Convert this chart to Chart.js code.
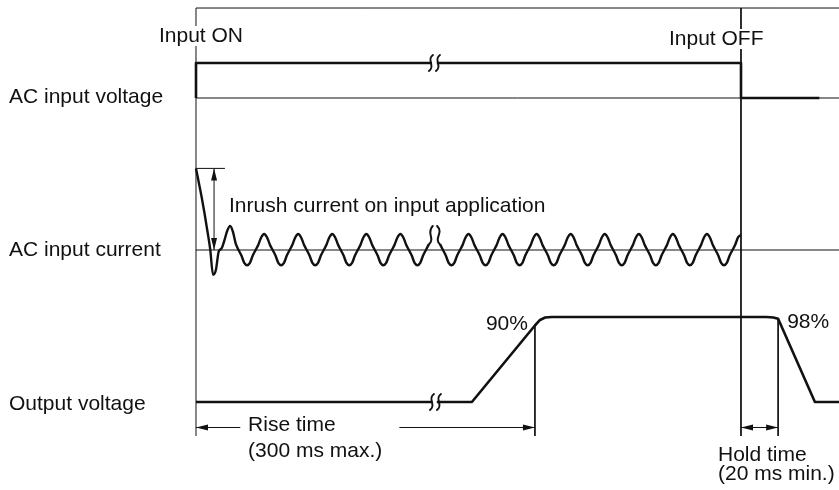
<!DOCTYPE html>
<html>
<head>
<meta charset="utf-8">
<script src="https://cdn.jsdelivr.net/npm/chart.js@4.4.1/dist/chart.umd.min.js"></script>
<style>
  html, body { margin: 0; padding: 0; background: #fff; }
  canvas { display: block; }
</style>
</head>
<body>
<canvas id="timingChart" width="839" height="490"></canvas>
<script>
// time is counted in mains cycles (one ripple period = 1), input switched on at t = 0
const rowLabels = ['AC input voltage', 'AC input current', 'Output voltage'];

// AC input voltage: 0 = off, 1 = on (null = axis break)
const inputTimes  = [0, 0, 6.93, 7, 7.07, 16, 16, 18.3];
const inputLevels = [0, 1, 1, null, 1, 1, 0, 0];

// AC input current, one value every 1/12 cycle from t = 0 to t = 16 (relative units)
const currentStep = 1 / 12;
const currentValues = [
  5.1, 4.2, 3.3, 2.3, 1.2, 0.05, -1.55, -1.25, -0.1, 0.1, 0.6, 1.2,
  1.5, 1.15, 0.4, 0, -0.35, -0.8, -0.95, -0.8, -0.35, 0, 0.35, 0.8,
  1.0, 0.8, 0.35, 0, -0.35, -0.8, -0.95, -0.8, -0.35, 0, 0.35, 0.8,
  1.0, 0.8, 0.35, 0, -0.35, -0.8, -0.95, -0.8, -0.35, 0, 0.35, 0.8,
  1.0, 0.8, 0.35, 0, -0.35, -0.8, -0.95, -0.8, -0.35, 0, 0.35, 0.8,
  1.0, 0.8, 0.35, 0, -0.35, -0.8, -0.95, -0.8, -0.35, 0, 0.35, 0.8,
  1.0, 0.8, 0.35, 0, -0.35, -0.8, -0.95, -0.8, -0.35, 0, 0.35, null,
  null, null, 0.35, 0, -0.35, -0.8, -0.95, -0.8, -0.35, 0, 0.35, 0.8,
  1.0, 0.8, 0.35, 0, -0.35, -0.8, -0.95, -0.8, -0.35, 0, 0.35, 0.8,
  1.0, 0.8, 0.35, 0, -0.35, -0.8, -0.95, -0.8, -0.35, 0, 0.35, 0.8,
  1.0, 0.8, 0.35, 0, -0.35, -0.8, -0.95, -0.8, -0.35, 0, 0.35, 0.8,
  1.0, 0.8, 0.35, 0, -0.35, -0.8, -0.95, -0.8, -0.35, 0, 0.35, 0.8,
  1.0, 0.8, 0.35, 0, -0.35, -0.8, -0.95, -0.8, -0.35, 0, 0.35, 0.8,
  1.0, 0.8, 0.35, 0, -0.35, -0.8, -0.95, -0.8, -0.35, 0, 0.35, 0.8,
  1.0, 0.8, 0.35, 0, -0.35, -0.8, -0.95, -0.8, -0.35, 0, 0.35, 0.8,
  1.0, 0.8, 0.35, 0, -0.35, -0.8, -0.95, -0.8, -0.35, 0, 0.35, 0.8,
  0.95
];
const inrushPeak = 5.1;

// Output voltage in % of rated value
const outputTimes  = [0, 6.93, 7, 7.07, 8.1, 9.95, 10.1, 10.25, 10.45, 16.75, 16.95, 17.09, 18.17, 18.9];
const outputLevels = [0, 0, null, 0, 0, 90, 96.5, 99.4, 100, 100, 99.4, 98, 0, 0];

// marked instants
const inputOnTime = 0;
const inputOffTime = 16;
const riseEndTime = 9.95;   // 90 %
const holdEndTime = 17.09;  // 98 %
const breakTime = 7;

const ink = '#111';
const font = '21px "Liberation Sans", Arial, Helvetica, sans-serif';

const toPoints = (xs, ys) => xs.map((x, i) => ({ x: x, y: ys[i] }));
const currentPoints = currentValues.map((v, i) => ({ x: i * currentStep, y: v }));

const X_MAX = 18.8771;
const FRAME_TOP = 463.5;   // on the output axis, just under the top edge
const GUIDE_END = -40;     // on the output axis, below the output row

const thin = (data, yAxisID) => ({
  data: data, yAxisID: yAxisID, showLine: true, borderColor: ink,
  borderWidth: 1, pointRadius: 0, tension: 0
});
const thick = (data, yAxisID) => ({
  data: data, yAxisID: yAxisID, showLine: true, borderColor: ink,
  borderWidth: 2.6, pointRadius: 0, tension: 0, borderJoinStyle: 'round', borderCapStyle: 'butt'
});

const arrowHead = (ctx, x, y, dx, dy) => {
  const len = 12, half = 3;
  ctx.beginPath();
  ctx.moveTo(x, y);
  ctx.lineTo(x - dx * len - dy * half, y - dy * len + dx * half);
  ctx.lineTo(x - dx * len + dy * half, y - dy * len - dx * half);
  ctx.closePath();
  ctx.fill();
};

const arrowLine = (ctx, x1, y1, x2, y2, bothEnds) => {
  const d = Math.hypot(x2 - x1, y2 - y1);
  const dx = (x2 - x1) / d, dy = (y2 - y1) / d;
  ctx.beginPath();
  ctx.moveTo(x1, y1);
  ctx.lineTo(x2, y2);
  ctx.stroke();
  arrowHead(ctx, x2, y2, dx, dy);
  if (bothEnds) arrowHead(ctx, x1, y1, -dx, -dy);
};

// pair of "ʃʃ" strokes marking a break in a flat line
const breakMark = (ctx, cx, cy) => {
  [-3.5, 3.5].forEach(off => {
    const c = cx + off;
    ctx.beginPath();
    ctx.moveTo(c + 2, cy - 8);
    ctx.bezierCurveTo(c - 5, cy - 3, c + 5, cy + 3, c - 2, cy + 8);
    ctx.stroke();
  });
};

const label = (ctx, text, x, y, align, knockout) => {
  ctx.textAlign = align || 'left';
  if (knockout) {
    const w = ctx.measureText(text).width;
    ctx.fillStyle = '#fff';
    ctx.fillRect(x - 1, y - 10, w + 2, 20);
    ctx.fillStyle = ink;
  }
  ctx.fillText(text, x, y);
};

const diagramNotes = {
  id: 'diagramNotes',
  afterDatasetsDraw(chart) {
    const { ctx } = chart;
    const { x, yV, yI, yO } = chart.scales;
    ctx.save();
    ctx.strokeStyle = ink;
    ctx.fillStyle = ink;
    ctx.lineWidth = 1;

    // rise time and hold time arrows
    const yArrow = yO.getPixelForValue(-30);
    arrowLine(ctx, x.getPixelForValue(1.3), yArrow, x.getPixelForValue(inputOnTime), yArrow);
    arrowLine(ctx, x.getPixelForValue(5.97), yArrow, x.getPixelForValue(riseEndTime), yArrow);
    arrowLine(ctx, x.getPixelForValue(inputOffTime), yArrow, x.getPixelForValue(holdEndTime), yArrow, true);

    // inrush peak arrow
    const xIn = x.getPixelForValue(0.53);
    arrowLine(ctx, xIn, yI.getPixelForValue(0), xIn, yI.getPixelForValue(inrushPeak), true);

    // axis break marks
    ctx.lineWidth = 2;
    ctx.lineCap = 'round';
    const xb = x.getPixelForValue(breakTime);
    breakMark(ctx, xb, yV.getPixelForValue(1));
    breakMark(ctx, xb + 1, yO.getPixelForValue(0));
    // on the ripple the break replaces one peak: two wavy strokes from the gap ends
    const b0 = yI.getPixelForValue(0.35), b1 = yI.getPixelForValue(1.5);
    const xa = x.getPixelForValue(6.833), xc = x.getPixelForValue(7.167);
    ctx.beginPath();
    ctx.moveTo(xa, b0);
    ctx.bezierCurveTo(xa + 7, b0 - 6, xa - 3, b1 + 7, xa + 4, b1);
    ctx.stroke();
    ctx.beginPath();
    ctx.moveTo(xc - 3, b1);
    ctx.bezierCurveTo(xc + 4, b1 + 7, xc - 7, b0 - 6, xc, b0);
    ctx.stroke();

    // texts
    ctx.font = font;
    ctx.textBaseline = 'middle';
    label(ctx, rowLabels[0], 9, yV.getPixelForValue(0) - 1);
    label(ctx, rowLabels[1], 9, yI.getPixelForValue(0));
    label(ctx, rowLabels[2], 9, yO.getPixelForValue(0) + 2);
    label(ctx, 'Input ON', x.getPixelForValue(inputOnTime) - 37, 36, 'left', true);
    label(ctx, 'Input OFF', x.getPixelForValue(inputOffTime) - 72, 39, 'left', true);
    label(ctx, 'Inrush current on input application', x.getPixelForValue(0.97), 206);
    label(ctx, '90%', x.getPixelForValue(riseEndTime) - 7, yO.getPixelForValue(92), 'right');
    label(ctx, '98%', x.getPixelForValue(holdEndTime) + 9, yO.getPixelForValue(94));
    label(ctx, 'Rise time', x.getPixelForValue(1.53), 425);
    label(ctx, '(300 ms max.)', x.getPixelForValue(1.53), 451);
    label(ctx, 'Hold time', x.getPixelForValue(inputOffTime) - 23, 455);
    label(ctx, '(20 ms min.)', x.getPixelForValue(inputOffTime) - 23, 474);
    ctx.restore();
  }
};

new Chart(document.getElementById('timingChart').getContext('2d'), {
  type: 'scatter',
  data: {
    datasets: [
      thick(toPoints(inputTimes, inputLevels), 'yV'),
      Object.assign(thick(currentPoints, 'yI'), { cubicInterpolationMode: 'monotone', borderWidth: 2.4 }),
      thick(toPoints(outputTimes, outputLevels), 'yO'),
      // baselines
      thin([{ x: inputOnTime, y: 0 }, { x: X_MAX, y: 0 }], 'yV'),
      thin([{ x: inputOnTime, y: 0 }, { x: X_MAX, y: 0 }], 'yI'),
      thin([{ x: inputOnTime, y: inrushPeak }, { x: 0.85, y: inrushPeak }], 'yI'),
      // frame and guide lines
      thin([{ x: inputOnTime, y: GUIDE_END }, { x: inputOnTime, y: FRAME_TOP }, { x: X_MAX, y: FRAME_TOP }], 'yO'),
      thin([{ x: inputOffTime, y: FRAME_TOP }, { x: inputOffTime, y: GUIDE_END }], 'yO'),
      thin([{ x: riseEndTime, y: 90 }, { x: riseEndTime, y: GUIDE_END }], 'yO'),
      thin([{ x: holdEndTime, y: 98 }, { x: holdEndTime, y: GUIDE_END }], 'yO')
    ]
  },
  options: {
    responsive: false,
    animation: false,
    layout: { padding: 0 },
    plugins: { legend: { display: false }, tooltip: { enabled: false } },
    scales: {
      x:  { type: 'linear', display: false, min: -5.7541, max: X_MAX },
      yV: { type: 'linear', display: false, min: -11.2, max: 2.8 },
      yI: { type: 'linear', display: false, min: -15, max: 15.625 },
      yO: { type: 'linear', display: false, min: -103.53, max: 472.94 }
    }
  },
  plugins: [diagramNotes]
});
</script>
</body>
</html>
